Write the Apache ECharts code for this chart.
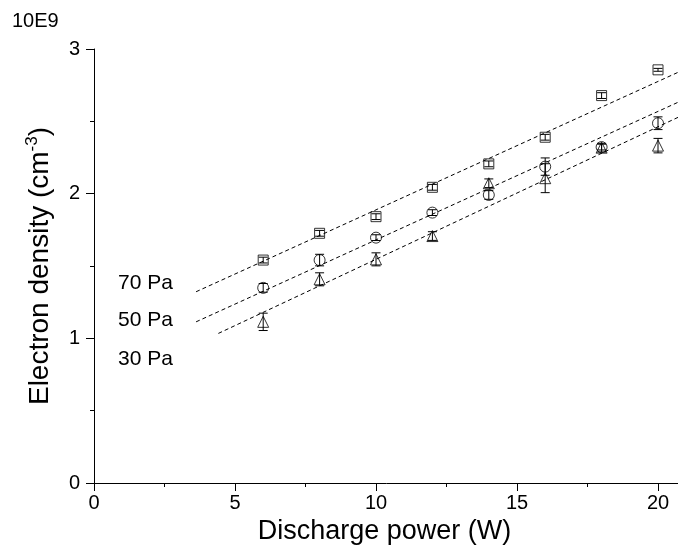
<!DOCTYPE html>
<html><head><meta charset="utf-8">
<script src="https://cdn.jsdelivr.net/npm/echarts@6/dist/echarts.min.js"></script>
<style>html,body{margin:0;padding:0;background:#fff}#c{width:678px;height:554px}</style>
</head><body><div id="c"></div>
<script>
// ---- data ----
const power = [6, 8, 10, 12, 14, 16, 18, 20];
const density70 = [1.541, 1.726, 1.841, 2.044, 2.206, 2.390, 2.678, 2.856];
const density50 = [1.349, 1.541, 1.696, 1.869, 1.991, 2.187, 2.322, 2.487];
const density30 = [1.114, 1.408, 1.546, 1.707, 2.072, 2.107, 2.318, 2.332];
const err70 = [0.02, 0.02, 0.02, 0.02, 0.02, 0.02, 0.02, 0.01];
const err50 = [0.03, 0.04, 0.02, 0.02, 0.03, 0.06, 0.02, 0.044];
const err30 = [0.06, 0.045, 0.045, 0.03, 0.03, 0.10, 0.03, 0.05];
const fit70 = [[3.62, 1.322], [20.77, 2.844]];
const fit50 = [[3.62, 1.114], [20.77, 2.637]];
const fit30 = [[4.41, 1.034], [20.77, 2.533]];
const xTicks = [0, 5, 10, 15, 20];
const yTicks = [0, 1, 2, 3];
const pressureLabels = ['70 Pa', '50 Pa', '30 Pa'];
const scaleLabel = '10E9';

const FONT = "'Liberation Sans', Arial, Helvetica, sans-serif";
const chart = echarts.init(document.getElementById('c'), null, {renderer: 'canvas'});

function errRender(params, api) {
  const x = api.value(0), y = api.value(1), e = api.value(2);
  const hi = api.coord([x, y + e]), lo = api.coord([x, y - e]);
  const w = 4.5;
  const style = {stroke: '#000', lineWidth: 1, fill: null};
  return {type: 'group', children: [
    {type: 'line', shape: {x1: hi[0], y1: hi[1], x2: lo[0], y2: lo[1]}, style: style},
    {type: 'line', shape: {x1: hi[0] - w, y1: hi[1], x2: hi[0] + w, y2: hi[1]}, style: style},
    {type: 'line', shape: {x1: lo[0] - w, y1: lo[1], x2: lo[0] + w, y2: lo[1]}, style: style}
  ]};
}
function pts(ys) { return power.map((p, i) => [p, ys[i]]); }
function errPts(ys, es) { return power.map((p, i) => [p, ys[i], es[i]]); }
const hollow = {color: 'rgba(0,0,0,0)', borderColor: '#000', borderWidth: 1};
const dash = {color: '#000', width: 1, type: [4, 3]};

const option = {
  animation: false,
  backgroundColor: '#fff',
  grid: {left: 94, top: 49, height: 434, width: 705, containLabel: false, outerBoundsMode: 'none'},
  xAxis: {
    type: 'value', min: 0, max: 25, interval: 5,
    name: 'Discharge power (W)', nameLocation: 'middle', nameGap: 33,
    nameTextStyle: {fontFamily: FONT, fontSize: 27, color: '#000', padding: [0, 124, 0, 0]},
    axisLine: {show: true, lineStyle: {color: '#000', width: 1}},
    axisTick: {show: true, inside: false, length: 8, lineStyle: {color: '#000'}},
    minorTick: {show: true, splitNumber: 2, length: 4, lineStyle: {color: '#000'}},
    splitLine: {show: false}, minorSplitLine: {show: false},
    axisLabel: {fontFamily: FONT, fontSize: 20, color: '#000', margin: 10,
      formatter: v => xTicks.includes(v) ? String(v) : ''}
  },
  yAxis: {
    type: 'value', min: 0, max: 3, interval: 1,
    name: 'Electron density (cm{sup|-3})', nameLocation: 'middle', nameGap: 38, nameRotate: 90,
    nameTextStyle: {fontFamily: FONT, fontSize: 28, color: '#000', lineHeight: 32,
      rich: {sup: {fontFamily: FONT, fontSize: 17, color: '#000', verticalAlign: 'top', lineHeight: 20}}},
    axisLine: {show: true, lineStyle: {color: '#000', width: 1}},
    axisTick: {show: true, inside: false, length: 8, lineStyle: {color: '#000'}},
    minorTick: {show: true, splitNumber: 2, length: 4, lineStyle: {color: '#000'}},
    splitLine: {show: false}, minorSplitLine: {show: false},
    axisLabel: {fontFamily: FONT, fontSize: 20, color: '#000', margin: 14,
      formatter: v => yTicks.includes(v) ? String(v) : ''}
  },
  graphic: [
    {type: 'text', left: 12, top: 11, style: {text: scaleLabel, font: '20px ' + FONT, fill: '#000'}},
    {type: 'text', left: 118, top: 273, style: {text: pressureLabels[0], font: '21px ' + FONT, fill: '#000'}},
    {type: 'text', left: 118, top: 310, style: {text: pressureLabels[1], font: '21px ' + FONT, fill: '#000'}},
    {type: 'text', left: 118, top: 349, style: {text: pressureLabels[2], font: '21px ' + FONT, fill: '#000'}}
  ],
  series: [
    {type: 'line', data: fit70, symbol: 'none', lineStyle: dash, z: 1},
    {type: 'line', data: fit50, symbol: 'none', lineStyle: dash, z: 1},
    {type: 'line', data: fit30, symbol: 'none', lineStyle: dash, z: 1},
    {type: 'custom', renderItem: errRender, data: errPts(density70, err70), z: 2},
    {type: 'custom', renderItem: errRender, data: errPts(density50, err50), z: 2},
    {type: 'custom', renderItem: errRender, data: errPts(density30, err30), z: 2},
    {type: 'scatter', name: '70 Pa', data: pts(density70), symbol: 'rect', symbolSize: 10, itemStyle: hollow, z: 3},
    {type: 'scatter', name: '50 Pa', data: pts(density50), symbol: 'circle', symbolSize: 11, itemStyle: hollow, z: 3},
    {type: 'scatter', name: '30 Pa', data: pts(density30), symbol: 'triangle', symbolSize: 11, itemStyle: hollow, z: 3}
  ]
};
chart.setOption(option);
</script>
</body></html>
